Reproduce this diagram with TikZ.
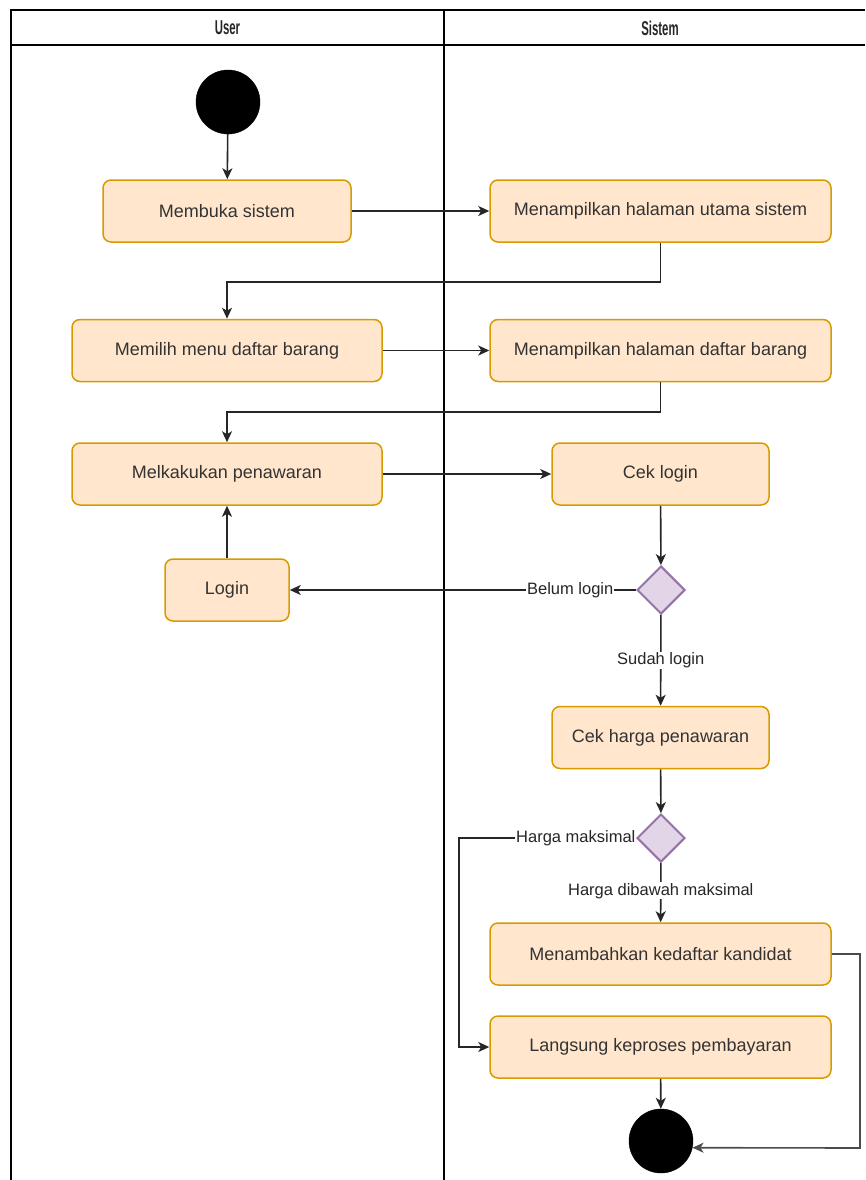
\documentclass[tikz,border=0pt]{standalone}
\usepackage{fontspec}
\setmainfont{Liberation Sans}
\usetikzlibrary{arrows.meta,shapes.geometric}
\definecolor{actfill}{HTML}{FFE6CC}
\definecolor{actdraw}{HTML}{D79B00}
\definecolor{decfill}{HTML}{E1D5E7}
\definecolor{decdraw}{HTML}{9673A6}
\definecolor{txt}{HTML}{333333}
\begin{document}
\begin{tikzpicture}[x=1pt,y=-1pt,
  act/.style={draw=actdraw,fill=actfill,line width=1.5pt,rounded corners=8pt,
    minimum height=62pt,inner sep=0pt,text=txt,font=\fontsize{18}{20}\selectfont},
  dec/.style={diamond,draw=decdraw,fill=decfill,line width=2pt,
    minimum width=48pt,minimum height=48pt,inner sep=0pt},
  dot/.style={circle,fill=black,draw=black,minimum size=64pt,inner sep=0pt},
  flow/.style={line width=1.6pt,draw=black!85,-{Stealth[length=11pt,width=10pt,inset=3pt]}},
  lbl/.style={fill=white,inner sep=1pt,text=black!85,font=\fontsize{16.5}{18}\selectfont},
  lane/.style={line width=1.5pt,draw=black},
  head/.style={font=\bfseries\fontsize{20}{22}\selectfont,text=black!85}]
\useasboundingbox (0,0) rectangle (865,1180);

% swimlanes
\draw[lane] (11,1180) -- (11,10) -- (865,10);
\draw[lane] (11,45) -- (865,45);
\draw[lane] (444,10) -- (444,1180);
\node[head] (hu) at (227.5,28) {\scalebox{0.57}[1]{User}};
\node[head] (hs) at (660,28) {\scalebox{0.57}[1]{Sistem}};

% nodes
\node[dot] (start) at (228,102) {};
\node[act,minimum width=248pt] (buka) at (227,211) {Membuka sistem};
\node[act,minimum width=341pt] (utama) at (660.5,211) {Menampilkan halaman utama sistem};
\node[act,minimum width=310pt] (pilih) at (227,350.5) {Memilih menu daftar barang};
\node[act,minimum width=341pt] (daftar) at (660.5,350.5) {Menampilkan halaman daftar barang};
\node[act,minimum width=310pt] (tawar) at (227,474) {Melkakukan penawaran};
\node[act,minimum width=217pt] (ceklogin) at (660.5,474) {Cek login};
\node[dec] (d1) at (661,590) {};
\node[act,minimum width=124pt] (login) at (227,590) {Login};
\node[act,minimum width=217pt] (cekharga) at (660.5,737.5) {Cek harga penawaran};
\node[dec] (d2) at (661,838) {};
\node[act,minimum width=341pt] (kandidat) at (660.5,954) {Menambahkan kedaftar kandidat};
\node[act,minimum width=341pt] (bayar) at (660.5,1047) {Langsung keproses pembayaran};
\node[dot] (end) at (661,1141) {};

% connectors
\coordinate (k1) at (860,954);
\coordinate (k2) at (860,1148);
\coordinate (h1) at (459,838);

\draw[flow] (start) -- (buka);
\draw[flow] (buka) -- (utama);
\draw[flow] (utama.south) -- ++(0,39) -| (pilih.north);
\draw[flow] (pilih) -- (daftar);
\draw[flow] (daftar.south) -- ++(0,30) -| (tawar.north);
\draw[flow] (tawar) -- (ceklogin);
\draw[flow] (ceklogin) -- (d1);
\draw[flow] (d1) -- node[lbl,pos=0.19]{Belum login} (login);
\draw[flow] (login) -- (tawar);
\draw[flow] (d1) -- node[lbl]{Sudah login} (cekharga);
\draw[flow] (cekharga) -- (d2);
\draw[flow] (d2) -- node[lbl,pos=0.47]{Harga dibawah maksimal} (kandidat);
\draw[flow] (d2.west) -- node[lbl,pos=0.34]{Harga maksimal} (h1) |- (bayar.west);
\draw[flow] (bayar) -- (end);
\draw[flow,draw=black!70] (kandidat.east) -- (k1) -- (k2) -- (end.-12);
\end{tikzpicture}
\end{document}
